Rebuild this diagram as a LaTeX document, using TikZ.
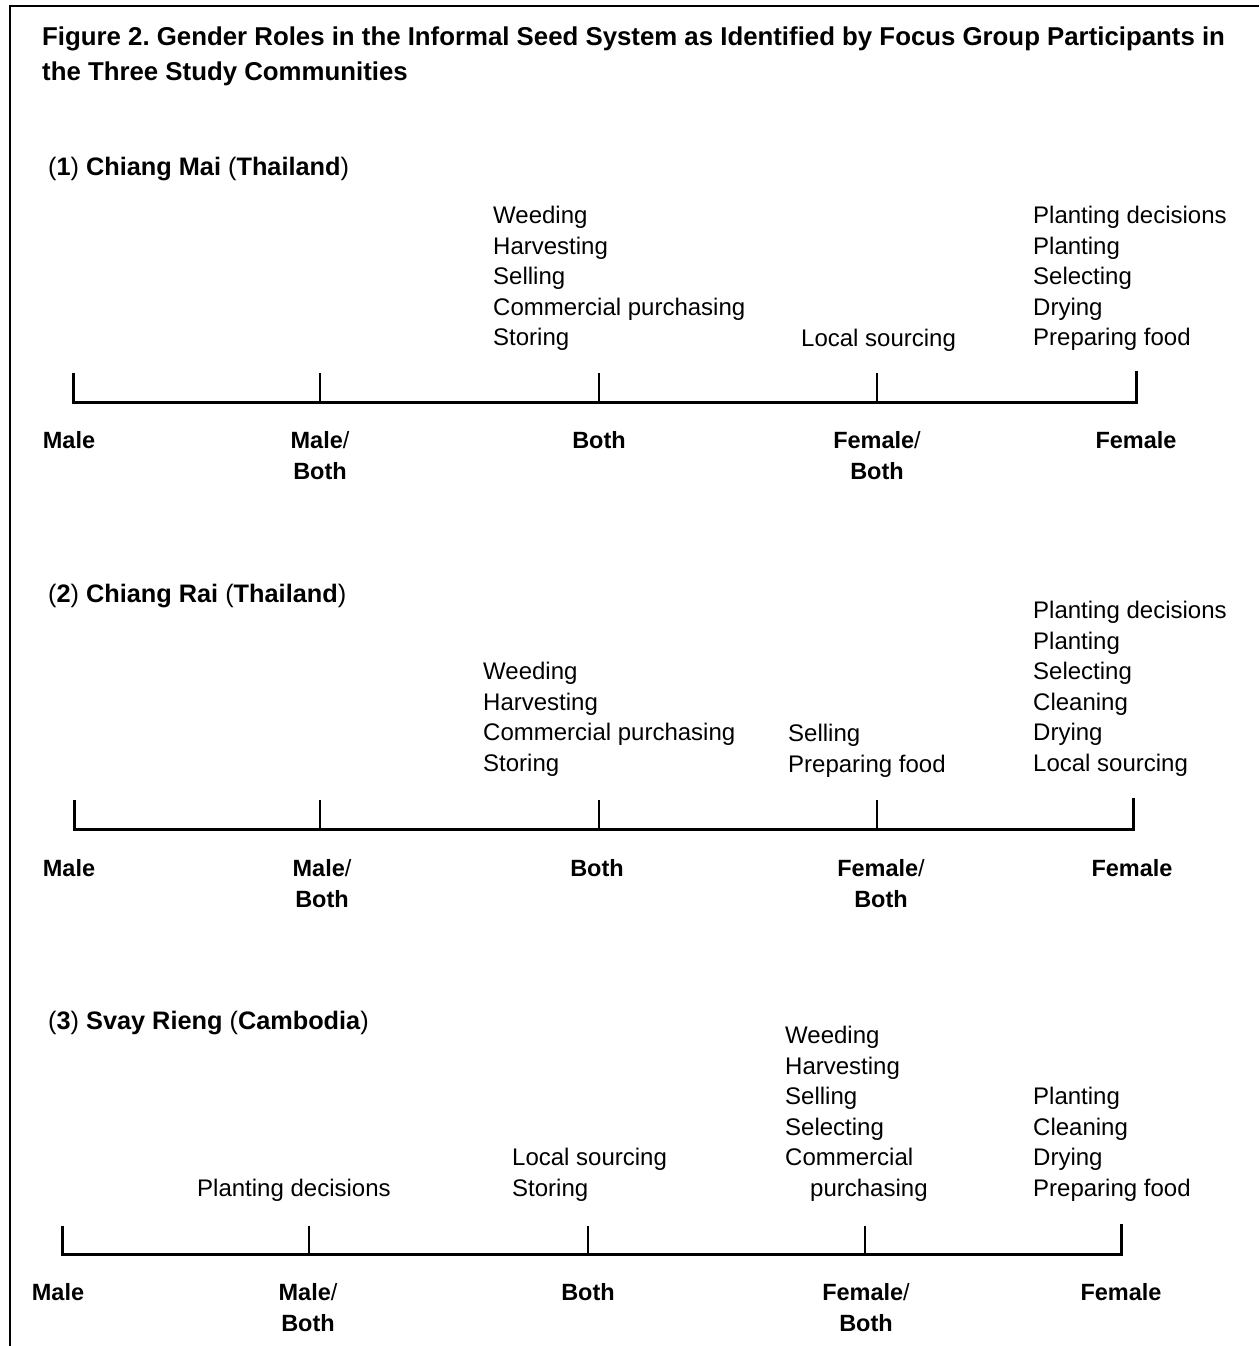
\documentclass[tikz,border=0pt]{standalone}
\usepackage{fontspec}
\setmainfont{Liberation Sans}
\frenchspacing
\newcommand\blk[1]{\begin{tabular}[t]{@{}l@{}}#1\end{tabular}}
\newcommand\cblk[1]{\begin{tabular}[t]{@{}c@{}}#1\end{tabular}}
\newcommand\mdslash{\textmd{/}}
\tikzset{
  item/.style={anchor=base west, inner sep=0pt, font=\fontsize{24}{30.5}\selectfont},
  lab/.style={anchor=base, inner sep=0pt, font=\fontsize{23.5}{30.5}\selectfont\bfseries},
  head/.style={anchor=base west, inner sep=0pt, font=\fontsize{25.3}{30}\selectfont},
  ttl/.style={anchor=base west, inner sep=0pt, font=\fontsize{25.8}{35}\selectfont\bfseries},
  axisline/.style={line width=3pt},
  tickline/.style={line width=2.5pt},
  frameline/.style={line width=1.5pt}
}
\begin{document}
\begin{tikzpicture}[x=1pt,y=-1pt]
\useasboundingbox (0,0) rectangle (1259,1346);
% frame
\coordinate (fbl) at (10,1346);
\coordinate (ftl) at (10,6);
\coordinate (ftr) at (1259,6);
\draw[frameline] (fbl) -- (ftl) -- (ftr);
% title
\node[ttl] (title1) at (42,46) {Figure 2. Gender Roles in the Informal Seed System as Identified by Focus Group Participants in};
\node[ttl] (title2) at (42,81) {the Three Study Communities};

% ===== Section 1 =====
\node[head] (h1) at (48,175.5) {(\textbf{1}) \textbf{Chiang Mai} (\textbf{Thailand})};
\node[item] (s1a) at (493,223.5) {\blk{Weeding\\Harvesting\\Selling\\Commercial purchasing\\Storing}};
\node[item] (s1b) at (801,346.5) {Local sourcing};
\node[item] (s1c) at (1033,223.5) {\blk{Planting decisions\\Planting\\Selecting\\Drying\\Preparing food}};
\coordinate (a1t0) at (73,373);   \coordinate (a1b0) at (73,402);
\coordinate (a1t1) at (320,373);  \coordinate (a1b1) at (320,402);
\coordinate (a1t2) at (599,373);  \coordinate (a1b2) at (599,402);
\coordinate (a1t3) at (877,373);  \coordinate (a1b3) at (877,402);
\coordinate (a1t4) at (1136,371); \coordinate (a1b4) at (1136,402);
\draw[axisline] (a1t0) -- (a1b0) -- (a1b4) -- (a1t4);
\draw[tickline] (a1b1) -- (a1t1);
\draw[tickline] (a1b2) -- (a1t2);
\draw[tickline] (a1b3) -- (a1t3);
\node[lab] (l1a) at (69,448.5) {Male};
\node[lab] (l1b) at (320,448.5) {\cblk{Male\mdslash\\Both}};
\node[lab] (l1c) at (599,448.5) {Both};
\node[lab] (l1d) at (877,448.5) {\cblk{Female\mdslash\\Both}};
\node[lab] (l1e) at (1136,448.5) {Female};

% ===== Section 2 =====
\node[head] (h2) at (48,602.5) {(\textbf{2}) \textbf{Chiang Rai} (\textbf{Thailand})};
\node[item] (s2a) at (483,679.5) {\blk{Weeding\\Harvesting\\Commercial purchasing\\Storing}};
\node[item] (s2b) at (788,741.5) {\blk{Selling\\Preparing food}};
\node[item] (s2c) at (1033,618.5) {\blk{Planting decisions\\Planting\\Selecting\\Cleaning\\Drying\\Local sourcing}};
\coordinate (a2t0) at (74,800);   \coordinate (a2b0) at (74,829);
\coordinate (a2t1) at (320,800);  \coordinate (a2b1) at (320,829);
\coordinate (a2t2) at (599,800);  \coordinate (a2b2) at (599,829);
\coordinate (a2t3) at (877,800);  \coordinate (a2b3) at (877,829);
\coordinate (a2t4) at (1133,798); \coordinate (a2b4) at (1133,829);
\draw[axisline] (a2t0) -- (a2b0) -- (a2b4) -- (a2t4);
\draw[tickline] (a2b1) -- (a2t1);
\draw[tickline] (a2b2) -- (a2t2);
\draw[tickline] (a2b3) -- (a2t3);
\node[lab] (l2a) at (69,876.5) {Male};
\node[lab] (l2b) at (322,876.5) {\cblk{Male\mdslash\\Both}};
\node[lab] (l2c) at (597,876.5) {Both};
\node[lab] (l2d) at (881,876.5) {\cblk{Female\mdslash\\Both}};
\node[lab] (l2e) at (1132,876.5) {Female};

% ===== Section 3 =====
\node[head] (h3) at (48,1029.5) {(\textbf{3}) \textbf{Svay Rieng} (\textbf{Cambodia})};
\node[item] (s3a) at (197,1196.5) {Planting decisions};
\node[item] (s3b) at (512,1165.5) {\blk{Local sourcing\\Storing}};
\node[item] (s3c) at (785,1043.5) {\blk{Weeding\\Harvesting\\Selling\\Selecting\\Commercial\\\hspace*{25pt}purchasing}};
\node[item] (s3d) at (1033,1104.5) {\blk{Planting\\Cleaning\\Drying\\Preparing food}};
\coordinate (a3t0) at (62,1226);   \coordinate (a3b0) at (62,1254);
\coordinate (a3t1) at (309,1226);  \coordinate (a3b1) at (309,1254);
\coordinate (a3t2) at (588,1226);  \coordinate (a3b2) at (588,1254);
\coordinate (a3t3) at (865,1226);  \coordinate (a3b3) at (865,1254);
\coordinate (a3t4) at (1121,1224); \coordinate (a3b4) at (1121,1254);
\draw[axisline] (a3t0) -- (a3b0) -- (a3b4) -- (a3t4);
\draw[tickline] (a3b1) -- (a3t1);
\draw[tickline] (a3b2) -- (a3t2);
\draw[tickline] (a3b3) -- (a3t3);
\node[lab] (l3a) at (58,1300.5) {Male};
\node[lab] (l3b) at (308,1300.5) {\cblk{Male\mdslash\\Both}};
\node[lab] (l3c) at (588,1300.5) {Both};
\node[lab] (l3d) at (866,1300.5) {\cblk{Female\mdslash\\Both}};
\node[lab] (l3e) at (1121,1300.5) {Female};
\end{tikzpicture}
\end{document}
